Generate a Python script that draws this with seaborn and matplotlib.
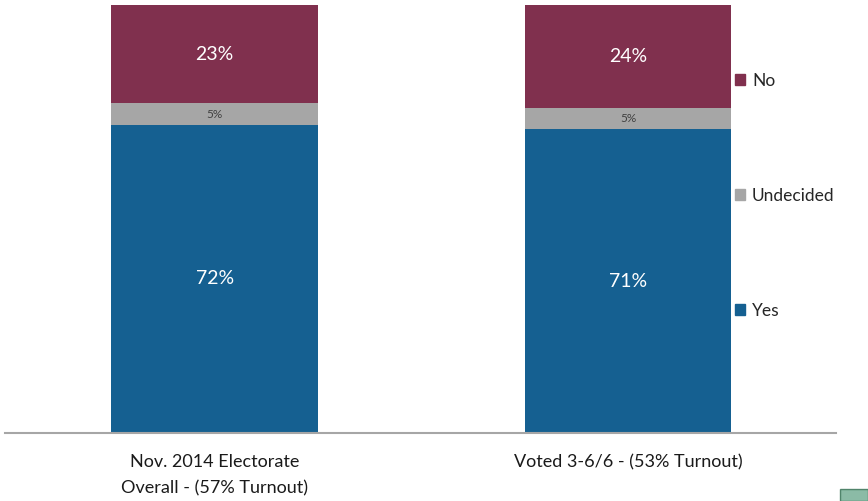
import matplotlib
matplotlib.use("Agg")
import matplotlib.pyplot as plt
import matplotlib.patches as mpatches
import numpy as np
import pandas as pd
import seaborn as sns

groups = ["Nov. 2014 Electorate\nOverall - (57% Turnout)", "Voted 3-6/6 - (53% Turnout)"]
yes = [72, 71]
undecided = [5, 5]
no = [23, 24]

c_yes = "#156091"
c_und = "#A6A6A6"
c_no = "#80304E"

sns.set_style("white")
plt.rcParams["font.family"] = ["Lato", "DejaVu Sans"]

df = pd.DataFrame({"group": groups, "Yes": yes, "Undecided": undecided, "No": no})
df["yes_top"] = df["Yes"]
df["und_top"] = df["Yes"] + df["Undecided"]
df["no_top"] = df["und_top"] + df["No"]

fig = plt.figure(figsize=(8.68, 5.01), dpi=100)
ax = fig.add_axes([5/868, 1-433/501, 831/868, 428/501])

# layered cumulative bars, tallest first
for col, c in [("no_top", c_no), ("und_top", c_und), ("yes_top", c_yes)]:
    sns.barplot(data=df, x="group", y=col, color=c, width=0.5, saturation=1, linewidth=0, ax=ax)

for i, row in df.iterrows():
    ax.text(i, row["Yes"] / 2, f"{row['Yes']}%", ha="center", va="center", color="white", fontsize=14)
    ax.text(i, row["Yes"] + row["Undecided"] / 2, f"{row['Undecided']}%", ha="center", va="center",
            color="#404040", fontsize=8.5)
    ax.text(i, row["und_top"] + row["No"] / 2, f"{row['No']}%", ha="center", va="center", color="white", fontsize=14)

ax.set_xlim(-0.507, 1.503)
ax.set_ylim(0, 100)
ax.set_xlabel("")
ax.set_ylabel("")
ax.set_yticks([])
ax.tick_params(axis="x", length=0, pad=15, labelsize=13, colors="#1a1a1a")
for lab in ax.get_xticklabels():
    lab.set_linespacing(1.8)
    lab.set_verticalalignment("top")
for s in ["top", "right", "left"]:
    ax.spines[s].set_visible(False)
ax.spines["bottom"].set_color("#A6A6A6")
ax.spines["bottom"].set_linewidth(1.5)

handles = [mpatches.Patch(color=c_no, label="No"),
           mpatches.Patch(color=c_und, label="Undecided"),
           mpatches.Patch(color=c_yes, label="Yes")]
fig.legend(handles=handles, loc="center left", bbox_to_anchor=(719/868, 1-196/501), frameon=False,
           fontsize=12.5, labelspacing=5.7, handlelength=0.6, handleheight=0.6, handletextpad=0.4)

# partial logo in the corner
fig.patches.append(mpatches.Rectangle((840/868, 0), 28/868, 12/501, transform=fig.transFigure,
                                      facecolor="#5a9f80", edgecolor="#1f5f3f", alpha=0.7))

fig.savefig("out.png", dpi=100)
